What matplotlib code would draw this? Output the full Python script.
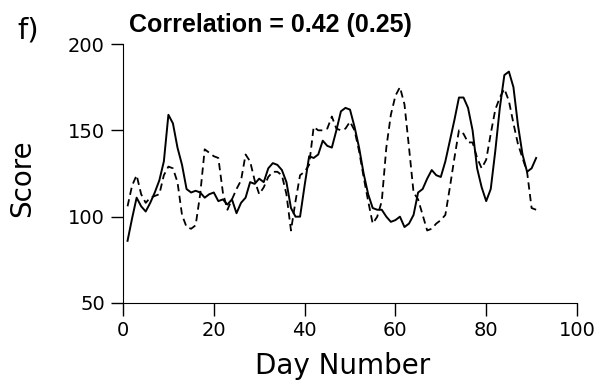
import numpy as np
import matplotlib
matplotlib.use('Agg')
import matplotlib.pyplot as plt

#Daily scores, days 1-91.
days = list(range(1, 92))
solid_score = [86, 99, 111, 106, 103, 108, 114, 121, 132, 159,
               154, 140, 130, 116, 114, 115, 114, 111, 113, 114,
               109, 110, 107, 110, 102, 108, 111, 120, 119, 122,
               120, 128, 131, 130, 127, 120, 105, 100, 100, 118,
               135, 134, 136, 144, 141, 140, 150, 161, 163, 162,
               152, 140, 125, 113, 105, 104, 104, 100, 97, 98,
               100, 94, 96, 101, 114, 116, 122, 127, 124, 123,
               132, 144, 156, 169, 169, 163, 150, 128, 117, 109,
               116, 138, 163, 182, 184, 175, 153, 136, 126, 128,
               134]
dashed_score = [106, 118, 124, 113, 108, 111, 112, 113, 124, 129,
                128, 120, 101, 94, 93, 95, 113, 139, 137, 135,
                134, 114, 104, 110, 116, 121, 136, 132, 121, 113,
                117, 123, 126, 126, 124, 113, 92, 109, 124, 126,
                130, 152, 150, 150, 151, 158, 151, 150, 151, 155,
                150, 138, 123, 109, 96, 100, 109, 140, 159, 170,
                175, 165, 140, 114, 110, 101, 92, 93, 96, 98,
                101, 117, 134, 150, 148, 143, 143, 134, 128, 133,
                148, 162, 169, 174, 167, 154, 142, 134, 126, 105,
                104]

x_ticks = [0, 20, 40, 60, 80, 100]
y_ticks = [50, 100, 150, 200]

plt.rcParams['font.family'] = ['DejaVu Sans']

fig = plt.figure(figsize=(6.02, 3.86), dpi=100)
ax = fig.add_axes([123/602, 1 - 303/386, 454/602, 259/386])

ax.plot(days, solid_score, color='black', lw=1.4)
ax.plot(days, dashed_score, color='black', lw=1.3, ls=(0, (4, 2.5)))

ax.set_xlim(0, 100)
ax.set_ylim(50, 200)
ax.set_xticks(x_ticks)
ax.set_yticks(y_ticks)
ax.tick_params(direction='out', length=9, width=1, labelsize=14, pad=4)
ax.spines['top'].set_visible(False)
ax.spines['right'].set_visible(False)

fig.text(129/602, 1 - 25/386, 'Correlation = 0.42 (0.25)', fontsize=18,
         fontweight='bold', family='Liberation Sans', ha='left', va='center')
fig.text(28/602, 1 - 31/386, 'f)', fontsize=21,
         ha='center', va='center')
fig.text(22/602, 1 - 178/386, 'Score', fontsize=20, rotation=90,
         ha='center', va='center')
fig.text(343/602, 1 - 366/386, 'Day Number', fontsize=20,
         ha='center', va='center')

plt.savefig('out.png', dpi=100)
